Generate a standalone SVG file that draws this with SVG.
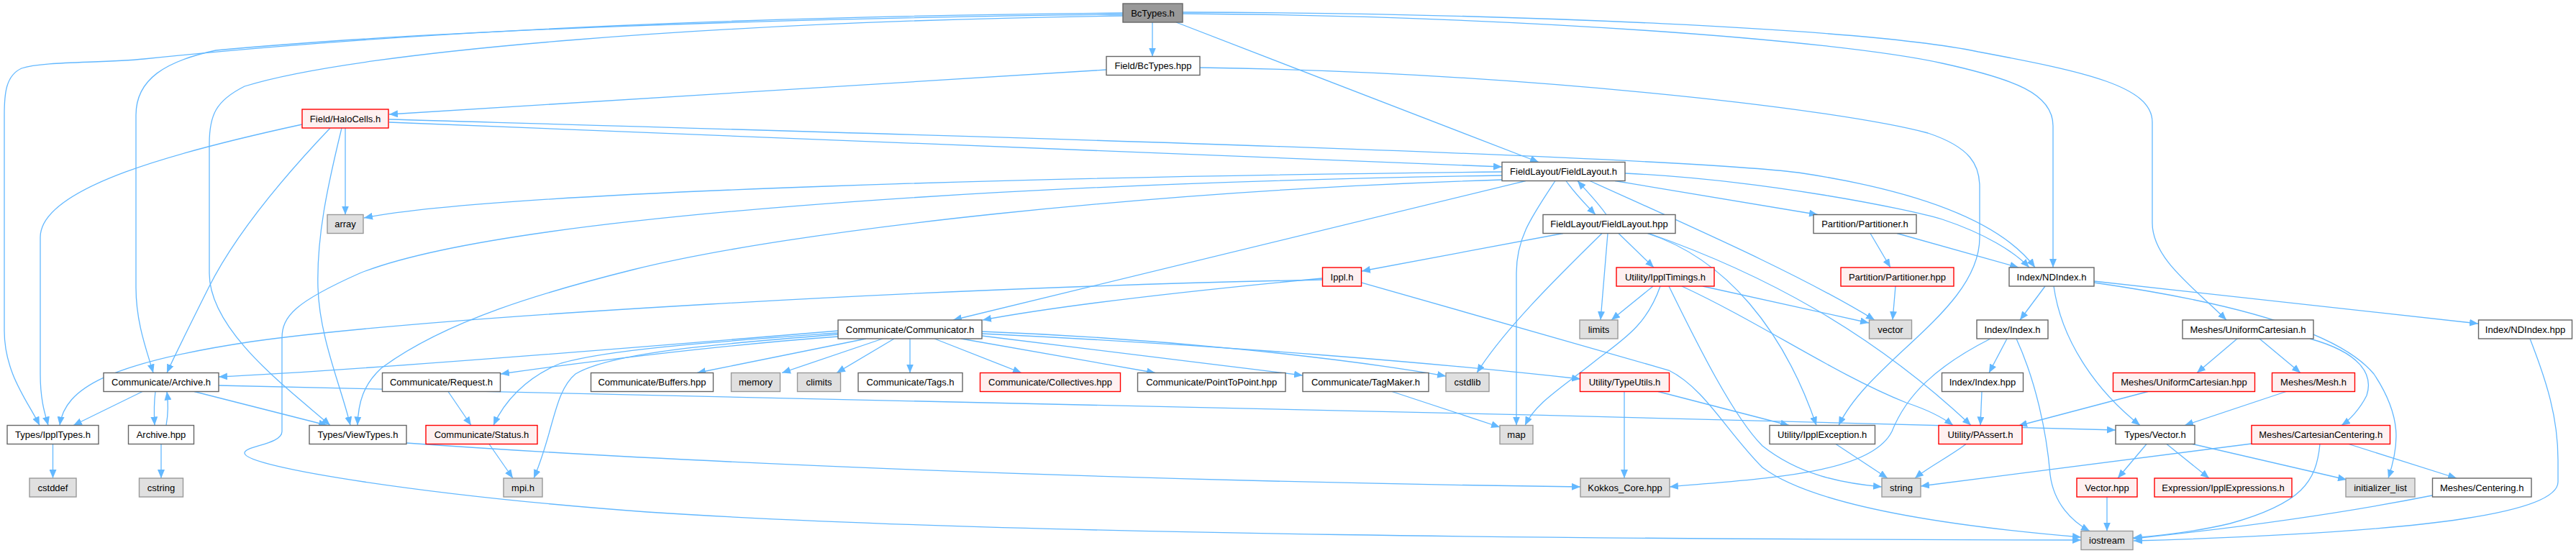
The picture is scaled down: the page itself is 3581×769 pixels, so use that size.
<svg xmlns="http://www.w3.org/2000/svg" width="3581" height="769" viewBox="0 0 3581 769">
<style>
.e{fill:none;stroke:#63b8ff;stroke-width:1.3;marker-end:url(#arr)}
.nd{fill:#ffffff;stroke:#666666;stroke-width:1.4}
.red{fill:#fff0f0;stroke:#ff0000;stroke-width:1.4}
.ext{fill:#e0e0e0;stroke:#999999;stroke-width:1.4}
.root{fill:#999999;stroke:#666666;stroke-width:1.4}
text{font-family:"Liberation Sans",Arial,Helvetica,sans-serif;font-size:13px;fill:#000;text-anchor:middle}
</style>
<defs>
<marker id="arr" markerUnits="userSpaceOnUse" markerWidth="13" markerHeight="10" refX="12" refY="5" orient="auto">
<path d="M0,0 L12,5 L0,10 z" fill="#63b8ff"/>
</marker>
</defs>
<rect width="3581" height="769" fill="#ffffff"/>
<g id="edges">
<path class="e" d="M1602,31 L1602,78.5"/>
<path class="e" d="M1635,31 L2139,225.5"/>
<path class="e" d="M1561,18 C1100,22 600,40 200,82 C140,88 60,85 30,95 C8,105 6,130 6,160 L6,460 C6,520 40,560 55,591.5"/>
<path class="e" d="M1561,20 C1100,25 600,42 300,70 C230,85 189,110 189,160 L189,400 C189,450 205,490 213,518.5"/>
<path class="e" d="M1561,22 C1000,30 500,70 340,120 C300,140 291,160 291,200 L291,380 C291,460 400,540 459,591.5"/>
<path class="e" d="M1644,19 C2100,22 2550,55 2700,88 C2800,110 2854,130 2854,175 L2854,372"/>
<path class="e" d="M1644,17 C2100,18 2600,40 2750,72 C2900,100 2992,120 2992,170 L2992,310 C2992,360 3050,400 3095,445"/>
<path class="e" d="M1538,97 L541,159"/>
<path class="e" d="M1668,94 C2100,100 2550,150 2680,185 C2740,205 2752,230 2752,260 L2752,330 C2752,430 2600,500 2556,591.5"/>
<path class="e" d="M541,170 L2088,232"/>
<path class="e" d="M541,166 C1200,185 2300,215 2500,240 C2700,270 2790,320 2829,372"/>
<path class="e" d="M480,178 L480,298.5"/>
<path class="e" d="M420,173 C250,210 56,260 56,330 L56,520 C56,560 64,580 67,591.5"/>
<path class="e" d="M459,178 C400,240 330,320 290,400 C260,460 240,500 232,518.5"/>
<path class="e" d="M475,178 C455,260 440,330 442,400 C444,470 475,540 487,591.5"/>
<path class="e" d="M2088,239 C1500,245 700,265 506,303"/>
<path class="e" d="M2088,244 C1400,255 700,300 500,380 C410,420 392,440 392,470 L392,600 C392,618 340,620 340,630 C340,650 600,690 900,712 C1400,745 2300,750 2893,751"/>
<path class="e" d="M2088,250 C1600,265 1100,320 880,375 C760,405 620,445 530,512 C505,535 498,560 497,591.5"/>
<path class="e" d="M2121,251.5 L1325,445"/>
<path class="e" d="M2162,251.5 C2130,300 2108,330 2108,380 L2108,591.5"/>
<path class="e" d="M2177,251.5 C2190,270 2205,285 2218,298.5"/>
<path class="e" d="M2233,298.5 C2220,280 2205,265 2193,251.5"/>
<path class="e" d="M2210,251.5 C2350,315 2500,380 2606,445"/>
<path class="e" d="M2245,251.5 L2527,298.5"/>
<path class="e" d="M2259,241 C2450,250 2650,290 2700,305 C2760,325 2800,350 2821,372"/>
<path class="e" d="M2173,324.5 L1893,377"/>
<path class="e" d="M2227,324.5 C2160,390 2090,460 2053,518.5"/>
<path class="e" d="M2235,324.5 L2225,445"/>
<path class="e" d="M2250,324.5 L2299,372"/>
<path class="e" d="M2290,324.5 C2400,360 2480,460 2525,591.5"/>
<path class="e" d="M2292,324.5 C2450,380 2600,460 2740,591.5"/>
<path class="e" d="M2600,324.5 L2628,372"/>
<path class="e" d="M2637,324.5 L2806,372"/>
<path class="e" d="M2635,398 L2631,445"/>
<path class="e" d="M1838,387 C1700,400 1500,420 1366,445"/>
<path class="e" d="M1838,389 C1300,400 600,440 350,475 C150,505 90,540 83,591.5"/>
<path class="e" d="M1893,393 L2320,515 C2370,540 2400,600 2450,650 C2530,710 2750,735 2893,747"/>
<path class="e" d="M2298,398 L2240,445"/>
<path class="e" d="M2308,398 C2290,450 2260,470 2220,500 C2170,540 2135,560 2120,591.5"/>
<path class="e" d="M2320,398 C2360,480 2410,580 2450,620 C2500,660 2560,672 2616,677"/>
<path class="e" d="M2338,398 C2450,450 2550,520 2650,560 C2680,570 2700,580 2715,591.5"/>
<path class="e" d="M2367,398 L2598,449"/>
<path class="e" d="M1165,460 C900,482 500,515 304,524"/>
<path class="e" d="M1165,468 C1000,480 800,505 696,520"/>
<path class="e" d="M1165,463 C1000,475 850,485 780,505 C730,525 700,560 686,591.5"/>
<path class="e" d="M1165,465 C1000,478 850,490 800,520 C770,545 770,600 742,665"/>
<path class="e" d="M1204,471 L969,518.5"/>
<path class="e" d="M1227,471 L1087,518.5"/>
<path class="e" d="M1243,471 L1163,518.5"/>
<path class="e" d="M1265,471 L1265,518.5"/>
<path class="e" d="M1299,471 L1420,518.5"/>
<path class="e" d="M1336,471 L1606,518.5"/>
<path class="e" d="M1365,467 C1550,490 1700,508 1811,522"/>
<path class="e" d="M1365,461 C1600,470 1850,495 2010,523"/>
<path class="e" d="M1365,464 C1700,480 2000,505 2197,527"/>
<path class="e" d="M198,544.5 L102,591.5"/>
<path class="e" d="M216,544.5 C214,560 214,575 215,591.5"/>
<path class="e" d="M231,591.5 C234,575 234,560 232,544.5"/>
<path class="e" d="M270,544.5 L455,591.5"/>
<path class="e" d="M304,536 C800,552 2000,570 2941,598"/>
<path class="e" d="M224,617.5 L224,665"/>
<path class="e" d="M73.5,617.5 L73.5,665"/>
<path class="e" d="M623,544.5 L655,591.5"/>
<path class="e" d="M680,617.5 L713,665"/>
<path class="e" d="M565,616 C900,640 1500,668 2197,677"/>
<path class="e" d="M1935,544.5 L2085,594"/>
<path class="e" d="M2258,544.5 L2258,665"/>
<path class="e" d="M2305,544.5 L2487,591.5"/>
<path class="e" d="M2552,617.5 L2624,665"/>
<path class="e" d="M2733,617.5 C2710,635 2680,650 2662,665"/>
<path class="e" d="M2843,398 L2808,445"/>
<path class="e" d="M2855,398 C2865,470 2910,540 2975,591.5"/>
<path class="e" d="M2911,391 L3445,450"/>
<path class="e" d="M2911,393 C3100,420 3250,460 3300,520 C3340,580 3335,620 3320,665"/>
<path class="e" d="M2790,471 L2765,518.5"/>
<path class="e" d="M2803,471 C2830,530 2845,600 2850,660 C2855,700 2880,725 2905,738.5"/>
<path class="e" d="M2767,471 C2690,510 2650,550 2630,600 C2600,660 2450,665 2321,677"/>
<path class="e" d="M2755,544.5 L2753,591.5"/>
<path class="e" d="M3110,471 L3054,518.5"/>
<path class="e" d="M3141,471 L3198,518.5"/>
<path class="e" d="M3211,471 C3280,490 3300,520 3290,550 C3280,570 3265,585 3255,591.5"/>
<path class="e" d="M2986,544.5 L2806,592"/>
<path class="e" d="M3178,544.5 L3037,591.5"/>
<path class="e" d="M2984,617.5 L2944,665"/>
<path class="e" d="M3012,617.5 L3071,665"/>
<path class="e" d="M3048,617.5 L3262,667"/>
<path class="e" d="M2929,691 L2929,738.5"/>
<path class="e" d="M3130,617 L2670,676"/>
<path class="e" d="M3225,617.5 C3220,670 3200,700 3100,728 C3050,740 3000,745 2965,748"/>
<path class="e" d="M3265,617.5 L3415,665"/>
<path class="e" d="M3381,689 C3250,715 3100,735 2966,749"/>
<path class="e" d="M3517,471 C3540,530 3556,580 3556,640 L3556,670 C3556,710 3400,740 2966,752"/>
</g>
<g id="n_bctypes_h"><rect class="root" x="1561" y="5" width="83" height="26"/><text x="1602.5" y="22.6">BcTypes.h</text></g>
<g id="n_bctypes_hpp"><rect class="nd" x="1538" y="78.5" width="130" height="26"/><text x="1603" y="96.1">Field/BcTypes.hpp</text></g>
<g id="n_halocells"><rect class="red" x="420" y="152" width="120" height="26"/><text x="480" y="169.6">Field/HaloCells.h</text></g>
<g id="n_fl_h"><rect class="nd" x="2088" y="225.5" width="171" height="26"/><text x="2173.5" y="243.1">FieldLayout/FieldLayout.h</text></g>
<g id="n_array"><rect class="ext" x="455" y="298.5" width="50" height="26"/><text x="480" y="316.1">array</text></g>
<g id="n_fl_hpp"><rect class="nd" x="2145" y="298.5" width="184" height="26"/><text x="2237" y="316.1">FieldLayout/FieldLayout.hpp</text></g>
<g id="n_part_h"><rect class="nd" x="2521" y="298.5" width="143" height="26"/><text x="2592.5" y="316.1">Partition/Partitioner.h</text></g>
<g id="n_ippl"><rect class="red" x="1838.5" y="372" width="54" height="26"/><text x="1865.5" y="389.6">Ippl.h</text></g>
<g id="n_timings"><rect class="red" x="2247" y="372" width="136" height="26"/><text x="2315" y="389.6">Utility/IpplTimings.h</text></g>
<g id="n_part_hpp"><rect class="red" x="2559" y="372" width="157" height="26"/><text x="2637.5" y="389.6">Partition/Partitioner.hpp</text></g>
<g id="n_ndindex_h"><rect class="nd" x="2793" y="372" width="118" height="26"/><text x="2852" y="389.6">Index/NDIndex.h</text></g>
<g id="n_comm"><rect class="nd" x="1165" y="445" width="200" height="26"/><text x="1265" y="462.6">Communicate/Communicator.h</text></g>
<g id="n_limits"><rect class="ext" x="2196" y="445" width="53" height="26"/><text x="2222.5" y="462.6">limits</text></g>
<g id="n_vector"><rect class="ext" x="2598.5" y="445" width="59" height="26"/><text x="2628" y="462.6">vector</text></g>
<g id="n_index_h"><rect class="nd" x="2748" y="445" width="99" height="26"/><text x="2797.5" y="462.6">Index/Index.h</text></g>
<g id="n_unicart_h"><rect class="nd" x="3034" y="445" width="182" height="26"/><text x="3125" y="462.6">Meshes/UniformCartesian.h</text></g>
<g id="n_ndindex_hpp"><rect class="nd" x="3445.5" y="445" width="130" height="26"/><text x="3510.5" y="462.6">Index/NDIndex.hpp</text></g>
<g id="n_archive_h"><rect class="nd" x="144" y="518.5" width="160" height="26"/><text x="224" y="536.1">Communicate/Archive.h</text></g>
<g id="n_request"><rect class="nd" x="531.5" y="518.5" width="164" height="26"/><text x="613.5" y="536.1">Communicate/Request.h</text></g>
<g id="n_buffers"><rect class="nd" x="821.5" y="518.5" width="170" height="26"/><text x="906.5" y="536.1">Communicate/Buffers.hpp</text></g>
<g id="n_memory"><rect class="ext" x="1016.5" y="518.5" width="68" height="26"/><text x="1050.5" y="536.1">memory</text></g>
<g id="n_climits"><rect class="ext" x="1108.5" y="518.5" width="60" height="26"/><text x="1138.5" y="536.1">climits</text></g>
<g id="n_tags"><rect class="nd" x="1193" y="518.5" width="145" height="26"/><text x="1265.5" y="536.1">Communicate/Tags.h</text></g>
<g id="n_collectives"><rect class="red" x="1362.5" y="518.5" width="195" height="26"/><text x="1460" y="536.1">Communicate/Collectives.hpp</text></g>
<g id="n_p2p"><rect class="nd" x="1581.5" y="518.5" width="205.5" height="26"/><text x="1684.2" y="536.1">Communicate/PointToPoint.hpp</text></g>
<g id="n_tagmaker"><rect class="nd" x="1811" y="518.5" width="175" height="26"/><text x="1898.5" y="536.1">Communicate/TagMaker.h</text></g>
<g id="n_cstdlib"><rect class="ext" x="2010" y="518.5" width="60" height="26"/><text x="2040" y="536.1">cstdlib</text></g>
<g id="n_typeutils"><rect class="red" x="2196.5" y="518.5" width="124" height="26"/><text x="2258.5" y="536.1">Utility/TypeUtils.h</text></g>
<g id="n_index_hpp"><rect class="nd" x="2699.5" y="518.5" width="113" height="26"/><text x="2756" y="536.1">Index/Index.hpp</text></g>
<g id="n_unicart_hpp"><rect class="red" x="2937.5" y="518.5" width="197" height="26"/><text x="3036" y="536.1">Meshes/UniformCartesian.hpp</text></g>
<g id="n_mesh"><rect class="red" x="3158.5" y="518.5" width="115" height="26"/><text x="3216" y="536.1">Meshes/Mesh.h</text></g>
<g id="n_ippltypes"><rect class="nd" x="10" y="591.5" width="127" height="26"/><text x="73.5" y="609.1">Types/IpplTypes.h</text></g>
<g id="n_archive_hpp"><rect class="nd" x="178.5" y="591.5" width="91" height="26"/><text x="224" y="609.1">Archive.hpp</text></g>
<g id="n_viewtypes"><rect class="nd" x="430" y="591.5" width="135" height="26"/><text x="497.5" y="609.1">Types/ViewTypes.h</text></g>
<g id="n_status"><rect class="red" x="592" y="591.5" width="155" height="26"/><text x="669.5" y="609.1">Communicate/Status.h</text></g>
<g id="n_map"><rect class="ext" x="2085" y="591.5" width="46" height="26"/><text x="2108" y="609.1">map</text></g>
<g id="n_exception"><rect class="nd" x="2460" y="591.5" width="146.5" height="26"/><text x="2533.2" y="609.1">Utility/IpplException.h</text></g>
<g id="n_passert"><rect class="red" x="2695" y="591.5" width="116" height="26"/><text x="2753" y="609.1">Utility/PAssert.h</text></g>
<g id="n_vector_h"><rect class="nd" x="2941" y="591.5" width="110" height="26"/><text x="2996" y="609.1">Types/Vector.h</text></g>
<g id="n_cartcent"><rect class="red" x="3130" y="591.5" width="192.5" height="26"/><text x="3226.2" y="609.1">Meshes/CartesianCentering.h</text></g>
<g id="n_cstddef"><rect class="ext" x="41" y="665" width="65" height="26"/><text x="73.5" y="682.6">cstddef</text></g>
<g id="n_cstring"><rect class="ext" x="193.5" y="665" width="61" height="26"/><text x="224" y="682.6">cstring</text></g>
<g id="n_mpi"><rect class="ext" x="700" y="665" width="54" height="26"/><text x="727" y="682.6">mpi.h</text></g>
<g id="n_kokkos"><rect class="ext" x="2197" y="665" width="124" height="26"/><text x="2259" y="682.6">Kokkos_Core.hpp</text></g>
<g id="n_string"><rect class="ext" x="2616" y="665" width="54" height="26"/><text x="2643" y="682.6">string</text></g>
<g id="n_vector_hpp"><rect class="red" x="2887" y="665" width="84" height="26"/><text x="2929" y="682.6">Vector.hpp</text></g>
<g id="n_exprs"><rect class="red" x="2995" y="665" width="191" height="26"/><text x="3090.5" y="682.6">Expression/IpplExpressions.h</text></g>
<g id="n_initlist"><rect class="ext" x="3261" y="665" width="96" height="26"/><text x="3309" y="682.6">initializer_list</text></g>
<g id="n_centering"><rect class="nd" x="3381.5" y="665" width="137.5" height="26"/><text x="3450.2" y="682.6">Meshes/Centering.h</text></g>
<g id="n_iostream"><rect class="ext" x="2893" y="738.5" width="72" height="26"/><text x="2929" y="756.1">iostream</text></g>
</svg>
